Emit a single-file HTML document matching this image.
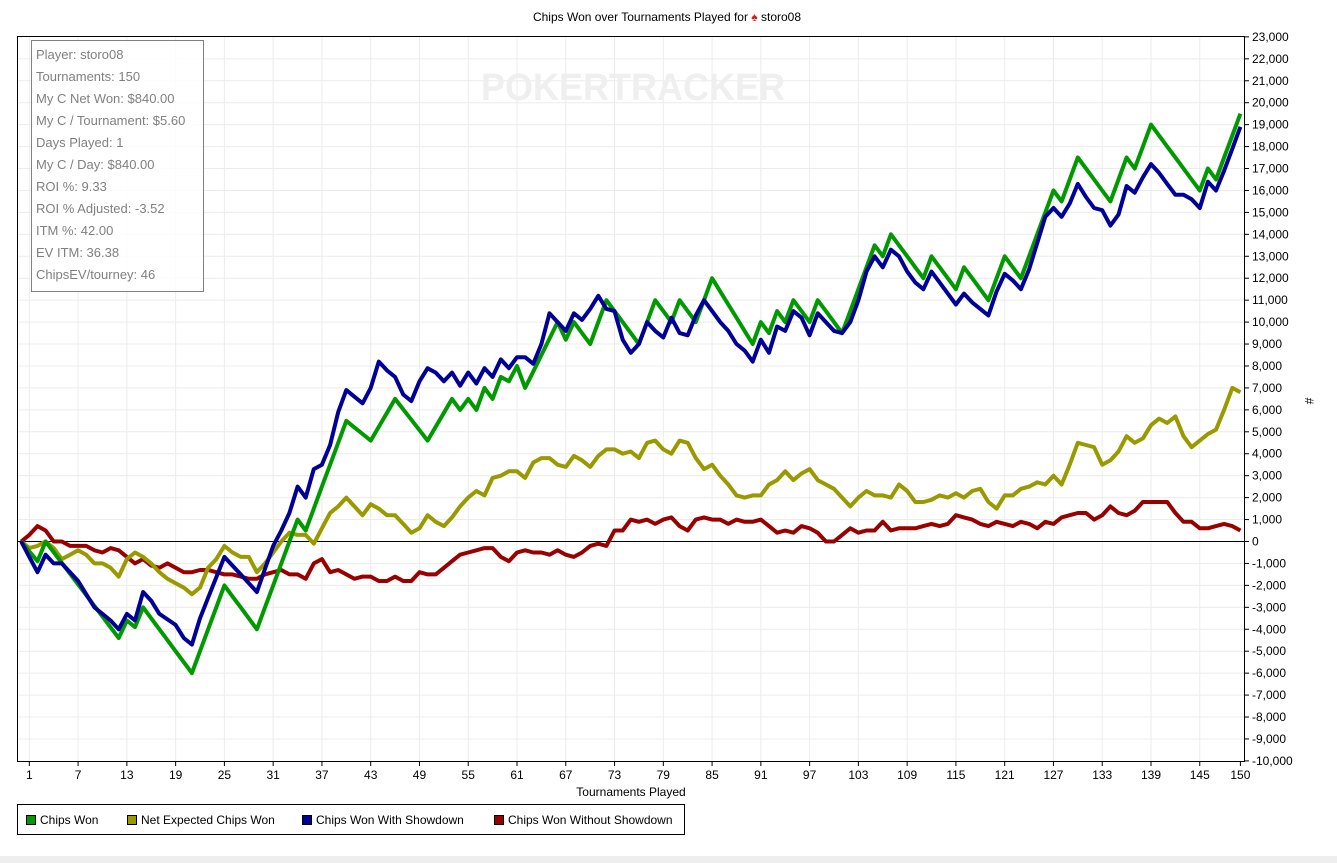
<!DOCTYPE html>
<html><head><meta charset="utf-8"><style>
html,body{margin:0;padding:0;background:#fff;width:1337px;height:863px;overflow:hidden;font-family:"Liberation Sans",Arial,sans-serif}
</style></head><body>
<svg id="s" width="1337" height="863" xmlns="http://www.w3.org/2000/svg" font-family="Liberation Sans, Arial, sans-serif">
<rect x="0" y="0" width="1337" height="863" fill="#fff"/>
<rect x="0" y="856" width="1337" height="7" fill="#eeeeee"/>
<text x="667" y="21" font-size="12" text-anchor="middle" fill="#000">Chips Won over Tournaments Played for <tspan fill="#d02020">♠</tspan> storo08</text>
<g id="grid"></g>
<text x="633" y="100" font-size="38" font-weight="bold" text-anchor="middle" fill="#efefef" textLength="304" lengthAdjust="spacingAndGlyphs">POKERTRACKER</text>
<g id="series"></g>
<rect x="17.5" y="36.5" width="1227" height="725" fill="none" stroke="#000" stroke-width="1"/>
<g id="axes"></g>
<rect x="31.5" y="40.5" width="172" height="251" fill="#fff" fill-opacity="0.85" stroke="#808080"/>
<g font-size="13" fill="#808080" font-family="Liberation Sans, sans-serif">
<text x="36" y="59">Player: storo08</text>
<text x="36" y="81">Tournaments: 150</text>
<text x="36" y="103">My C Net Won: $840.00</text>
<text x="36" y="125">My C / Tournament: $5.60</text>
<text x="36" y="147">Days Played: 1</text>
<text x="36" y="169">My C / Day: $840.00</text>
<text x="36" y="191">ROI %: 9.33</text>
<text x="36" y="213">ROI % Adjusted: -3.52</text>
<text x="36" y="235">ITM %: 42.00</text>
<text x="36" y="257">EV ITM: 36.38</text>
<text x="36" y="279">ChipsEV/tourney: 46</text>
</g>
<text x="631" y="796" font-size="12" text-anchor="middle">Tournaments Played</text>
<text x="1305" y="401" font-size="12" text-anchor="middle" transform="rotate(90 1305 401)">#</text>
<rect x="17.5" y="804.5" width="667" height="30" fill="#fff" stroke="#000"/>
<g font-size="12">
<rect x="26.5" y="815.5" width="9" height="9" fill="#009900" stroke="#000"/><text x="40" y="824">Chips Won</text>
<rect x="127.5" y="815.5" width="9" height="9" fill="#999900" stroke="#000"/><text x="141" y="824">Net Expected Chips Won</text>
<rect x="302.5" y="815.5" width="9" height="9" fill="#000099" stroke="#000"/><text x="316" y="824">Chips Won With Showdown</text>
<rect x="494.5" y="815.5" width="9" height="9" fill="#990000" stroke="#000"/><text x="508" y="824">Chips Won Without Showdown</text>
</g>
</svg>
<script>
var NS="http://www.w3.org/2000/svg";
function X(t){return 21.2+t*8.128;}
function Y(v){return 541.5-v*21.94;}
function el(p,n,a,txt){var e=document.createElementNS(NS,n);for(var k in a)e.setAttribute(k,a[k]);if(txt!==undefined)e.textContent=txt;p.appendChild(e);return e;}
var g=document.getElementById('grid'),ax=document.getElementById('axes'),se=document.getElementById('series');
for(var v=-10;v<=23;v++){var y=Y(v);
 if(v>-10&&v<23)el(g,'line',{x1:18,x2:1244,y1:y,y2:y,stroke:'#ececec'});
 el(ax,'line',{x1:1244,x2:1249,y1:y,y2:y,stroke:'#000'});
 var s=v==0?'0':(v<0?'-':'')+Math.abs(v)+',000';
 el(ax,'text',{x:1252,y:y+4,'font-size':12},s);}
for(var t=1;t<=150;t+=6){var x=X(t);if(t>145)break;
 el(g,'line',{x1:x,x2:x,y1:37,y2:761,stroke:'#ececec'});
 el(ax,'line',{x1:x,x2:x,y1:761,y2:766,stroke:'#000'});
 el(ax,'text',{x:x,y:779,'font-size':12,'text-anchor':'middle'},String(t));}
el(ax,'line',{x1:X(150),x2:X(150),y1:761,y2:766,stroke:'#000'});
el(ax,'text',{x:X(150),y:779,'font-size':12,'text-anchor':'middle'},'150');
el(g,'line',{x1:18,x2:1244,y1:Y(0),y2:Y(0),stroke:'#000'});
function interp(k){var pts=[];for(var i=0;i<k.length;i+=2)pts.push([k[i],k[i+1]]);var out=[];
 for(var j=0;j<pts.length-1;j++){var a=pts[j],b=pts[j+1];for(var t=a[0];t<b[0];t++)out.push([t,a[1]+(b[1]-a[1])*(t-a[0])/(b[0]-a[0])]);}
 out.push(pts[pts.length-1]);return out;}
function draw(k,c){var p=interp(k).map(function(q){return X(q[0]).toFixed(1)+','+Y(q[1]).toFixed(1)}).join(' ');
 el(se,'polyline',{points:p,fill:'none',stroke:c,'stroke-width':4,'stroke-linejoin':'round'});}
var red=[0,0,1,0.3,2,0.7,3,0.5,4,0,5,0,6,-0.2,7,-0.2,8,-0.2,9,-0.4,10,-0.5,11,-0.3,12,-0.4,13,-0.7,14,-1.0,15,-0.8,16,-1.1,17,-1.2,18,-1.0,19,-1.2,20,-1.4,21,-1.4,22,-1.3,23,-1.3,24,-1.4,25,-1.5,26,-1.5,27,-1.6,28,-1.7,29,-1.7,30,-1.5,31,-1.4,32,-1.3,33,-1.5,34,-1.5,35,-1.7,36,-1.0,37,-0.8,38,-1.4,39,-1.3,40,-1.5,41,-1.7,42,-1.6,43,-1.6,44,-1.8,45,-1.8,46,-1.6,47,-1.8,48,-1.8,49,-1.4,50,-1.5,51,-1.5,52,-1.2,53,-0.9,54,-0.6,55,-0.5,56,-0.4,57,-0.3,58,-0.3,59,-0.7,60,-0.9,61,-0.5,62,-0.4,63,-0.5,64,-0.5,65,-0.6,66,-0.4,67,-0.6,68,-0.7,69,-0.5,70,-0.2,71,-0.1,72,-0.2,73,0.5,74,0.5,75,1.0,76,0.9,77,1.0,78,0.8,79,1.0,80,1.1,81,0.7,82,0.5,83,1.0,84,1.1,85,1.0,86,1.0,87,0.8,88,1.0,89,0.9,90,0.9,91,1.0,92,0.7,93,0.4,94,0.5,95,0.4,96,0.7,97,0.6,98,0.4,99,0.0,100,0.0,101,0.3,102,0.6,103,0.4,104,0.5,105,0.5,106,0.9,107,0.5,108,0.6,109,0.6,110,0.6,111,0.7,112,0.8,113,0.7,114,0.8,115,1.2,116,1.1,117,1.0,118,0.8,119,0.7,120,0.9,121,0.8,122,0.7,123,0.9,124,0.8,125,0.6,126,0.9,127,0.8,128,1.1,129,1.2,130,1.3,131,1.3,132,1.0,133,1.2,134,1.6,135,1.3,136,1.2,137,1.4,138,1.8,139,1.8,140,1.8,141,1.8,142,1.3,143,0.9,144,0.9,145,0.6,146,0.6,147,0.7,148,0.8,149,0.7,150,0.5];
var yel=[0,0,1,-0.3,2,-0.2,3,0,4,-0.3,5,-0.8,6,-0.6,7,-0.4,8,-0.6,9,-1.0,10,-1.0,11,-1.2,12,-1.6,13,-0.8,14,-0.5,15,-0.7,16,-1.0,17,-1.4,18,-1.7,19,-1.9,20,-2.1,21,-2.4,22,-2.1,23,-1.2,24,-0.8,25,-0.2,26,-0.5,27,-0.7,28,-0.7,29,-1.4,30,-1.0,31,-0.5,32,0.0,33,0.4,34,0.3,35,0.3,36,-0.1,37,0.6,38,1.3,39,1.6,40,2.0,41,1.6,42,1.2,43,1.7,44,1.5,45,1.2,46,1.2,47,0.8,48,0.4,49,0.6,50,1.2,51,0.9,52,0.7,53,1.1,54,1.6,55,2.0,56,2.3,57,2.1,58,2.9,59,3.0,60,3.2,61,3.2,62,2.9,63,3.6,64,3.8,65,3.8,66,3.5,67,3.4,68,3.9,69,3.7,70,3.4,71,3.9,72,4.2,73,4.2,74,4.0,75,4.1,76,3.8,77,4.5,78,4.6,79,4.2,80,4.0,81,4.6,82,4.5,83,3.8,84,3.3,85,3.5,86,3.0,87,2.6,88,2.1,89,2.0,90,2.1,91,2.1,92,2.6,93,2.8,94,3.2,95,2.8,96,3.1,97,3.3,98,2.8,99,2.6,100,2.4,101,2.0,102,1.6,103,2.0,104,2.3,105,2.1,106,2.1,107,2.0,108,2.6,109,2.3,110,1.8,111,1.8,112,1.9,113,2.1,114,2.0,115,2.2,116,2.0,117,2.3,118,2.4,119,1.8,120,1.5,121,2.1,122,2.1,123,2.4,124,2.5,125,2.7,126,2.6,127,3.0,128,2.6,129,3.5,130,4.5,131,4.4,132,4.3,133,3.5,134,3.7,135,4.1,136,4.8,137,4.5,138,4.7,139,5.3,140,5.6,141,5.4,142,5.7,143,4.8,144,4.3,145,4.6,146,4.9,147,5.1,148,6.0,149,7.0,150,6.8];
var blue=[0,0,2,-1.4,3,-0.6,4,-1.0,5,-1.0,7,-1.8,9,-3.0,11,-3.6,12,-4.0,13,-3.3,14,-3.6,15,-2.3,16,-2.7,17,-3.3,19,-3.8,20,-4.4,21,-4.7,22,-3.5,25,-0.7,28,-1.9,29,-2.3,31,-0.2,32,0.5,33,1.3,34,2.5,35,2.0,36,3.3,37,3.5,38,4.4,39,5.9,40,6.9,41,6.6,42,6.3,43,7.0,44,8.2,45,7.8,46,7.5,47,6.7,48,6.4,49,7.3,50,7.9,51,7.7,52,7.3,53,7.7,54,7.1,55,7.7,56,7.2,57,7.9,58,7.5,59,8.3,60,7.9,61,8.4,62,8.4,63,8.1,64,9.0,65,10.4,66,10.0,67,9.6,68,10.4,69,10.1,70,10.6,71,11.2,72,10.6,73,10.5,74,9.2,75,8.6,76,9.0,77,10.0,78,9.6,79,9.3,80,10.2,81,9.5,82,9.4,83,10.3,84,11.0,85,10.5,86,10.0,87,9.6,88,9.0,89,8.7,90,8.2,91,9.2,92,8.6,93,9.8,94,9.6,95,10.5,96,10.2,97,9.4,98,10.4,99,10.0,100,9.6,101,9.5,102,10.0,103,11.0,104,12.3,105,13.0,106,12.5,107,13.3,108,13.0,109,12.3,110,11.8,111,11.5,112,12.3,113,11.8,114,11.3,115,10.8,116,11.3,117,10.9,118,10.6,119,10.3,120,11.4,121,12.2,122,11.9,123,11.5,124,12.4,125,13.6,126,14.8,127,15.2,128,14.8,129,15.4,130,16.3,131,15.7,132,15.2,133,15.1,134,14.4,135,14.9,136,16.2,137,15.9,138,16.6,139,17.2,140,16.8,141,16.3,142,15.8,143,15.8,144,15.6,145,15.2,146,16.4,147,16.0,148,16.9,149,17.9,150,18.9];
var green=[0,0,2,-0.9,3,0,12,-4.4,13,-3.6,14,-3.9,15,-3.0,21,-6.0,25,-2.0,29,-4.0,34,1.0,35,0.5,40,5.5,43,4.6,46,6.5,50,4.6,53,6.5,54,6.0,55,6.5,56,6.0,57,7.0,58,6.5,59,7.5,60,7.3,61,8.0,62,7.0,66,10,67,9.2,68,10,70,9.0,72,11,76,9.0,78,11,80,10,81,11,83,10,85,12,90,9.0,91,10,92,9.5,93,10.5,94,10,95,11,97,10,98,11,101,9.5,105,13.5,106,13,107,14,111,12,112,13,115,11.5,116,12.5,119,11,121,13,123,12,127,16,128,15.5,130,17.5,134,15.5,136,17.5,137,17,139,19,145,16,146,17,147,16.5,150,19.5];
draw(red,'#990000');draw(yel,'#999900');draw(green,'#009900');draw(blue,'#000099');
</script>
</body></html>
